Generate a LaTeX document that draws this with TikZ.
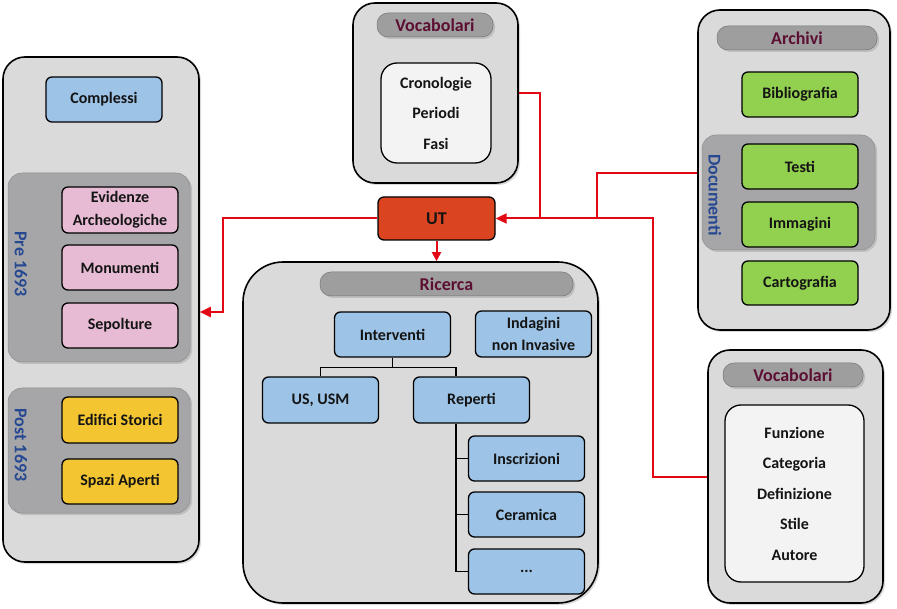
\documentclass[tikz,border=0pt]{standalone}
\usepackage{fontspec}
\setmainfont{Carlito}
\usetikzlibrary{arrows.meta,shadows}

\definecolor{framegrey}{RGB}{218,218,218}
\definecolor{groupgrey}{RGB}{166,166,169}
\definecolor{pillgrey}{RGB}{158,158,158}
\definecolor{titlered}{RGB}{92,15,51}
\definecolor{labelblue}{RGB}{38,72,145}
\definecolor{itemblue}{RGB}{157,195,230}
\definecolor{itempink}{RGB}{231,187,212}
\definecolor{itemyellow}{RGB}{242,197,49}
\definecolor{itemgreen}{RGB}{146,208,80}
\definecolor{listwhite}{RGB}{243,243,243}
\definecolor{utred}{RGB}{218,68,32}
\definecolor{linkred}{RGB}{226,8,20}
\definecolor{textblack}{RGB}{20,20,20}

\newcommand\boxfont{\fontsize{16}{19}\selectfont\bfseries}
\newcommand\titlefont{\fontsize{18}{21}\selectfont\bfseries}

\tikzset{
	framebox/.style={draw=black, line width=1.6pt, fill=framegrey, rounded corners=22pt,
		drop shadow={shadow xshift=2pt, shadow yshift=-2pt, opacity=0.3}},
	groupbox/.style={draw=groupgrey!85!black, line width=0.5pt, fill=groupgrey, rounded corners=14pt,
		drop shadow={shadow xshift=2pt, shadow yshift=-2pt, opacity=0.3}},
	titlepill/.style={draw=pillgrey!75!black, line width=0.5pt, fill=pillgrey, rounded corners=11pt,
		text=titlered, font=\titlefont, minimum height=24pt,
		drop shadow={shadow xshift=2pt, shadow yshift=-2pt, opacity=0.3}},
	itembox/.style={draw=black, line width=1.3pt, rounded corners=6pt, text=textblack,
		font=\boxfont, align=center, minimum width=116pt, minimum height=45pt, inner sep=0pt},
	listbox/.style={draw=black, line width=1.3pt, rounded corners=16pt, fill=listwhite, text=textblack,
		font=\fontsize{16}{30.5}\selectfont\bfseries, align=center, inner sep=0pt},
	sidelabel/.style={rotate=-90, text=labelblue, font=\titlefont},
	redlink/.style={draw=linkred, line width=2pt, -{Triangle[length=11pt,width=10pt]}},
	treeline/.style={draw=black, line width=1.6pt}
}

\begin{document}
\begin{tikzpicture}[x=1pt,y=1pt,yscale=-1]
	\useasboundingbox (0,0) rectangle (897,609);
	
	%Shape: left frame
	\node[framebox, minimum width=196pt, minimum height=505pt] (leftbox) at (101,309.5) {};
	%Shape: Complessi
	\node[itembox, fill=itemblue] (complessi) at (104,99.5) {Complessi};
	%Shape: Pre 1693 group
	\node[groupbox, minimum width=182pt, minimum height=189pt] (pregroup) at (99,267.5) {};
	\node[sidelabel] (prelabel) at (21,264) {Pre 1693};
	\node[itembox, fill=itempink, minimum height=46pt, font=\fontsize{16}{23}\selectfont\bfseries] (evidenze) at (120,210) {Evidenze\\Archeologiche};
	\node[itembox, fill=itempink] (monumenti) at (120,267.5) {Monumenti};
	\node[itembox, fill=itempink] (sepolture) at (120,325.5) {Sepolture};
	%Shape: Post 1693 group
	\node[groupbox, minimum width=182pt, minimum height=125pt] (postgroup) at (99,450.5) {};
	\node[sidelabel] (postlabel) at (21,445) {Post 1693};
	\node[itembox, fill=itemyellow, minimum height=46pt] (edifici) at (120,420) {Edifici Storici};
	\node[itembox, fill=itemyellow] (spazi) at (120,481.5) {Spazi Aperti};
	
	%Shape: top Vocabolari frame
	\node[framebox, minimum width=165pt, minimum height=180pt] (vocabtop) at (435.5,93) {};
	\node[titlepill, minimum width=116pt] (vocabtoptitle) at (435,25) {Vocabolari};
	\node[listbox, minimum width=110pt, minimum height=100pt] (vocabtoplist) at (436,113) {Cronologie\\Periodi\\Fasi};
	
	%Shape: UT
	\node[itembox, draw=black, fill=utred, minimum width=117pt, minimum height=43pt, font=\titlefont] (ut) at (436.5,218.5) {UT};
	
	%Shape: Ricerca frame
	\node[framebox, rounded corners=40pt, minimum width=355pt, minimum height=341pt] (ricerca) at (420.5,432.5) {};
	\node[titlepill, minimum width=253pt] (ricercatitle) at (446.5,284) {Ricerca};
	\node[itembox, fill=itemblue] (interventi) at (392.5,334.5) {Interventi};
	\node[itembox, fill=itemblue, minimum height=46pt, font=\fontsize{16}{22}\selectfont\bfseries] (indagini) at (533.5,334) {Indagini\\non Invasive};
	\node[itembox, fill=itemblue, minimum height=46pt] (usm) at (320.5,400) {US, USM};
	\node[itembox, fill=itemblue, minimum height=46pt] (reperti) at (471.5,400) {Reperti};
	\node[itembox, fill=itemblue] (inscrizioni) at (526.5,458.5) {Inscrizioni};
	\node[itembox, fill=itemblue] (ceramica) at (526.5,514.5) {Ceramica};
	\node[itembox, fill=itemblue] (altri) at (526.5,571.5) {...};
	%Straight Lines: tree
	\draw[treeline] (interventi.south) -- ++(0,10) -| (usm.north);
	\draw[treeline] (interventi.south) -- ++(0,10) -| ([xshift=-15.5pt]reperti.north);
	\draw[treeline] ([xshift=-15.5pt]reperti.south) |- (inscrizioni.west);
	\draw[treeline] ([xshift=-15.5pt]reperti.south) |- (ceramica.west);
	\draw[treeline] ([xshift=-15.5pt]reperti.south) |- (altri.west);
	
	%Shape: Archivi frame
	\node[framebox, minimum width=192pt, minimum height=320pt] (archivi) at (794,170) {};
	\node[titlepill, minimum width=160pt] (archivititle) at (797,38) {Archivi};
	\node[itembox, fill=itemgreen] (bibliografia) at (800,94.5) {Bibliografia};
	\node[groupbox, minimum width=173pt, minimum height=115pt] (documenti) at (788.5,192.5) {};
	\node[sidelabel] (documentilabel) at (715,195) {Documenti};
	\node[itembox, fill=itemgreen] (testi) at (800,166.5) {Testi};
	\node[itembox, fill=itemgreen] (immagini) at (800,224.5) {Immagini};
	\node[itembox, fill=itemgreen, minimum height=44pt] (cartografia) at (800,283) {Cartografia};
	
	%Shape: bottom Vocabolari frame
	\node[framebox, minimum width=175pt, minimum height=253pt] (vocabbot) at (795.5,476.5) {};
	\node[titlepill, minimum width=140pt] (vocabbottitle) at (793,375) {Vocabolari};
	\node[listbox, minimum width=139pt, minimum height=177pt] (vocabbotlist) at (794.5,493.5) {Funzione\\Categoria\\Definizione\\Stile\\Autore};
	
	%Straight Lines: red links
	\coordinate (vochub) at (540,218.5);
	\coordinate (archtop) at (597,173);
	\coordinate (archhub) at (597,218.5);
	\coordinate (bothub) at (653,218.5);
	\coordinate (leftbend) at (223,312);
	\draw[redlink, -] (vocabtop.east) -| (vochub);
	\draw[redlink, -] (archivi.west |- archtop) -- (archtop) -- (archhub);
	\draw[redlink] (vocabbot.west) -| (bothub) -- (ut.east);
	\draw[redlink] (ut.west) -| (leftbend) -- (leftbox.east |- leftbend);
	\draw[redlink, -{Triangle[length=9pt,width=9pt]}] (ut.south) -- (ut.south |- ricerca.north);
	
\end{tikzpicture}
\end{document}
